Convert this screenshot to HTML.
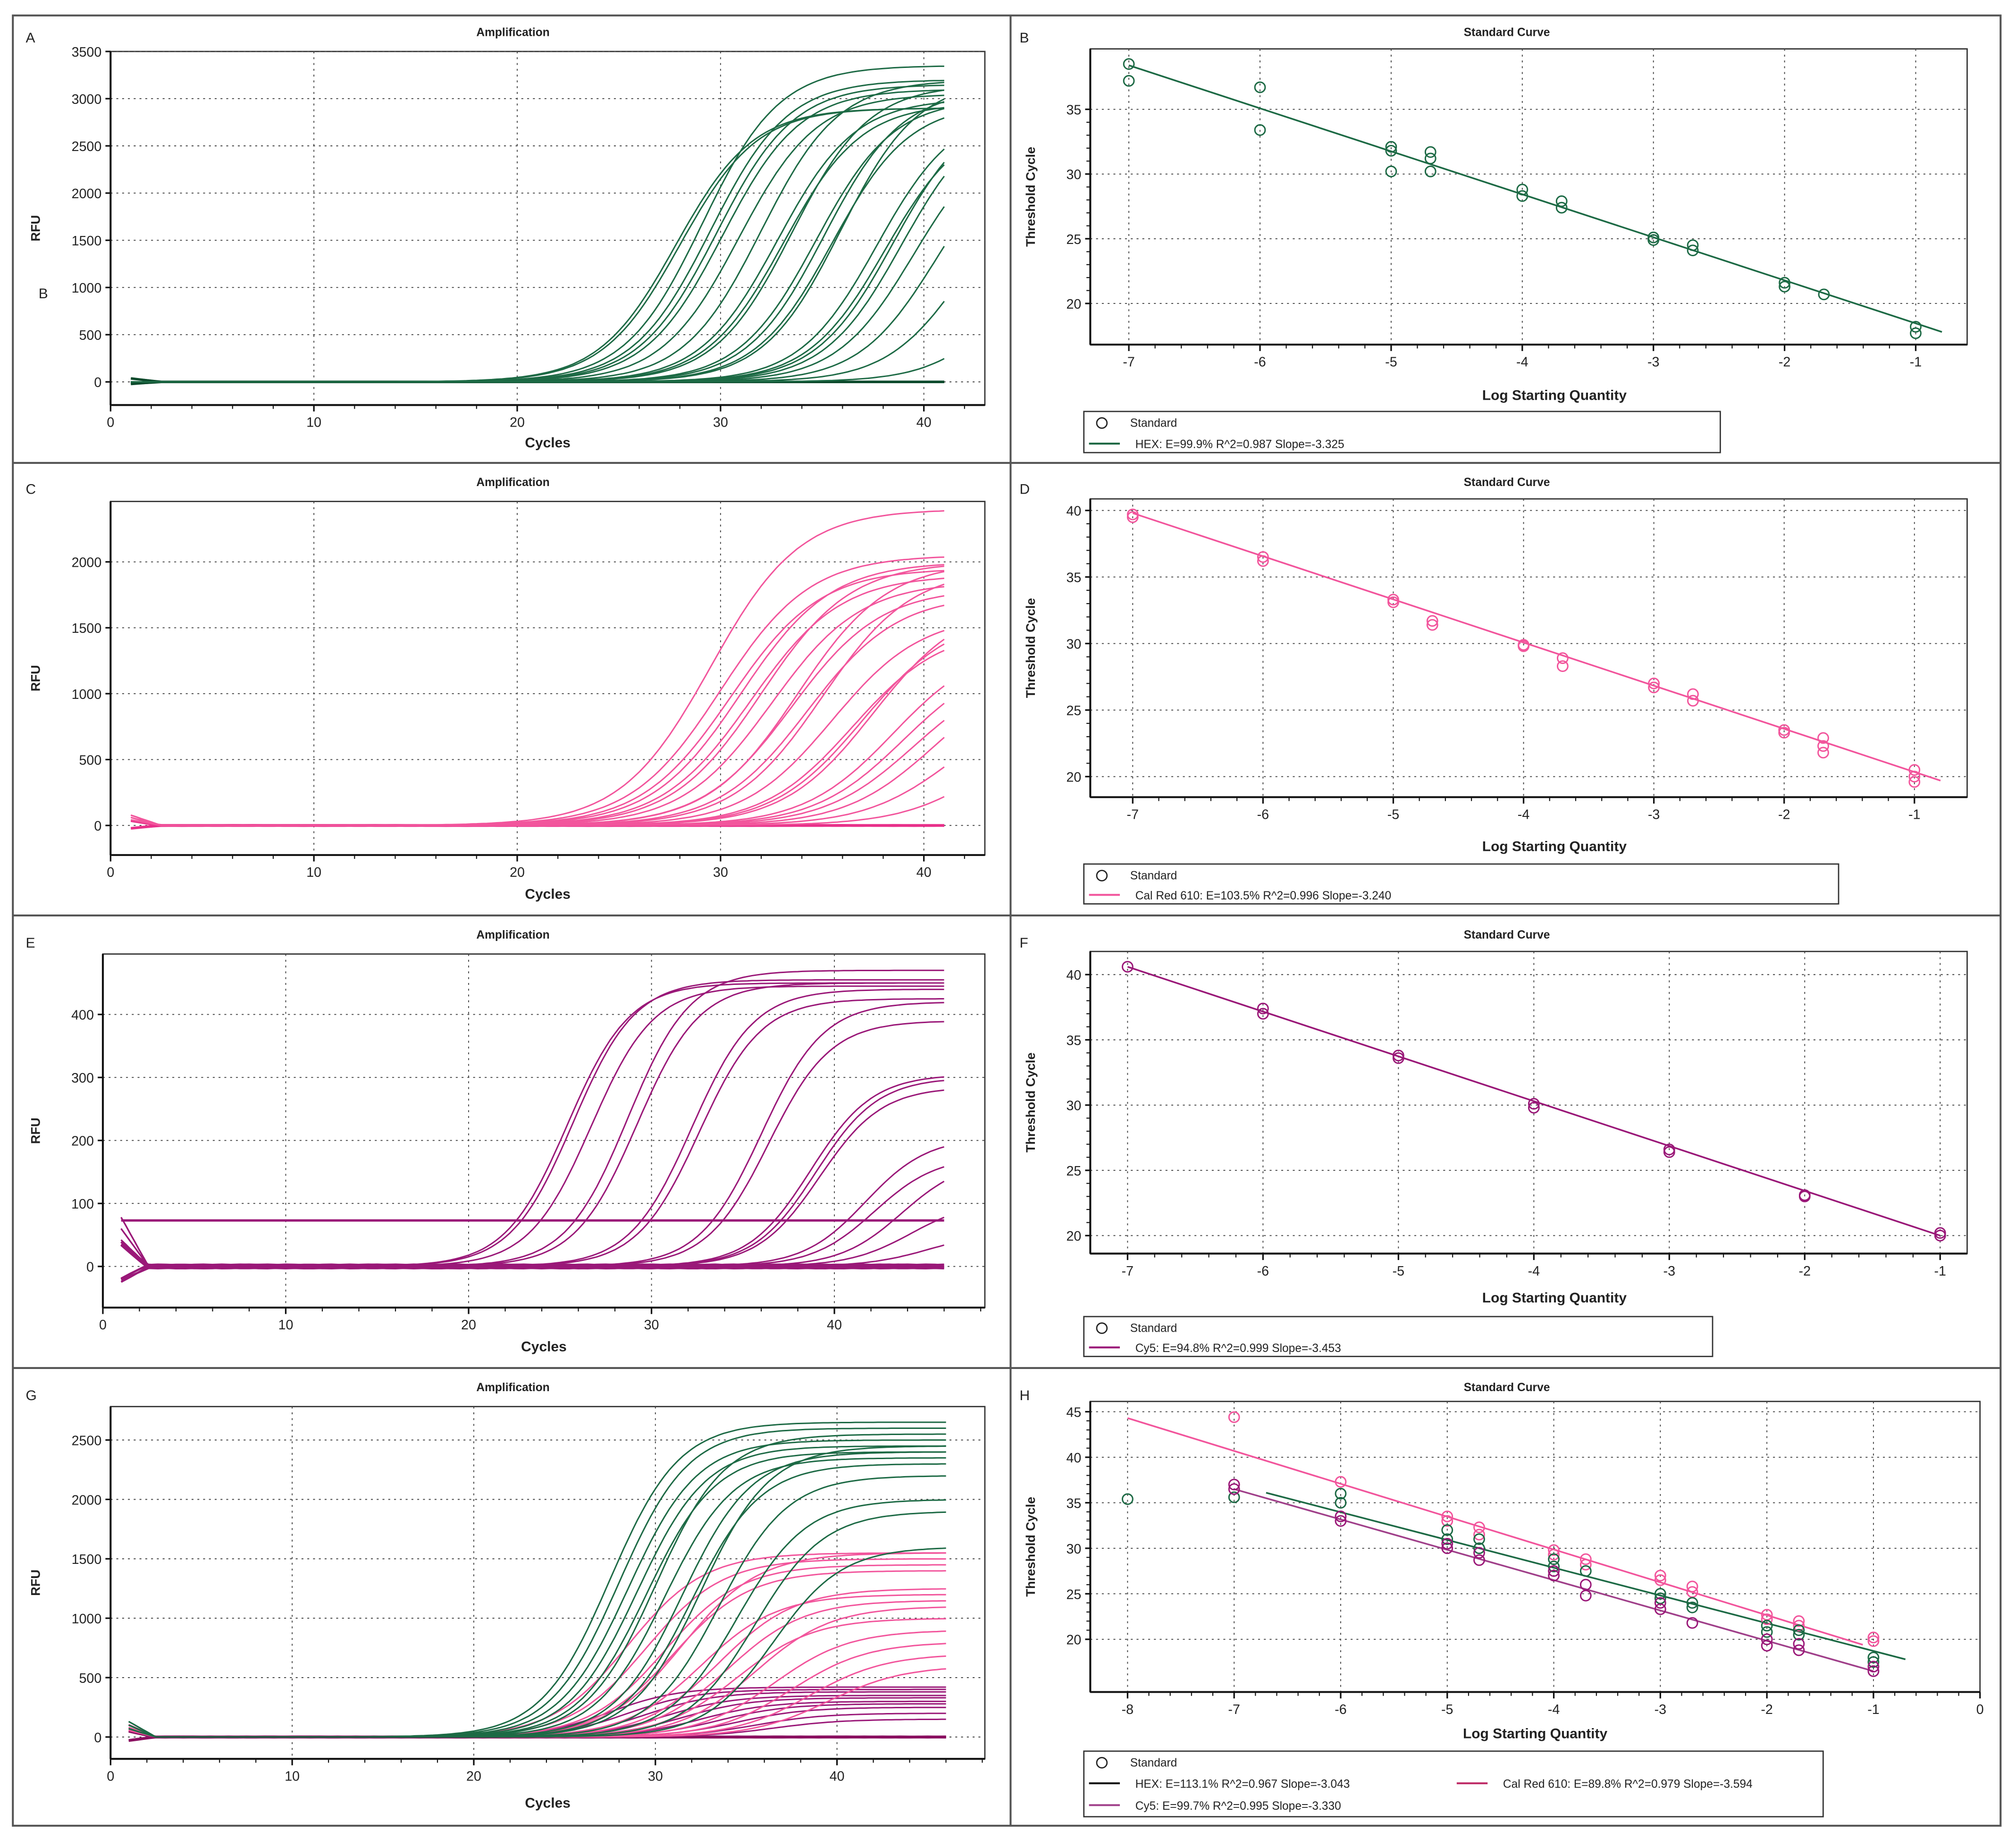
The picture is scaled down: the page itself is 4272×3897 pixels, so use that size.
<!DOCTYPE html>
<html><head><meta charset="utf-8"><style>
html,body{margin:0;padding:0;background:#fff;}
svg{display:block;font-family:"Liberation Sans",sans-serif;}
</style></head><body>
<svg id="fig" xmlns="http://www.w3.org/2000/svg" width="4272" height="3897" viewBox="0 0 1568 1430.3">
<rect x="0" y="0" width="1568" height="1430.3" fill="#fff"/>
<g id="frames" fill="none" stroke="#555" stroke-width="1.5">
<rect x="10" y="12" width="1546" height="1408"/>
<line x1="786" y1="12" x2="786" y2="1420"/>
<line x1="10" y1="360" x2="1556" y2="360"/>
<line x1="10" y1="712" x2="1556" y2="712"/>
<line x1="10" y1="1064" x2="1556" y2="1064"/>
</g>
<g id="root"></g>
</svg>
<script>
// ---------- DATA ----------
const ampA_ct = [27.8,28,29.1,29.5,29.8,30.1,30.9,32,32.8,33.1,33.5,34.7,35.1,35.5,35.9,37.7,38.1,38.5,38.9,39.5,40.6,42,44.5];
const ampA_plateau = [2900,2900,3350,3200,3150,3100,3050,3200,3000,2950,3150,3000,3100,2950,3200,2900,2800,2950,2900,2700,2600,2300,1800];
const ampC_ct = [29.5,30,30.5,31,31.5,32,32.5,33.5,33.8,34.3,35,35.5,36.5,37,37.5,38.5,39,39.5,40.5,41.5,43.5];
const ampC_plateau = [2400,2050,1950,2000,1900,2000,1850,1800,2000,1750,1950,1600,1500,1600,1700,1400,1300,1200,1200,1000,900];
const ampE_ct = [25.4,25.7,26.7,28.7,29.2,32.2,32.6,36,36.4,38.7,39,39.2,41.7,42.2,43.7,44.2,45.2];
const ampE_plateau = [450,455,445,470,450,440,425,420,390,305,300,285,205,175,170,105,55];
const ampE_threshold = 73;
const ampG_green_ct = [27.5,28,28.5,29,29.5,30,30.5,31.5,32,32.5,33.5,34.5,35.5,36.5];
const ampG_green_plateau = [2650,2600,2500,2450,2400,2550,2350,2400,2300,2450,2200,2000,1900,1600];
const ampG_pink_ct = [28.5,29.5,30.5,31,31.5,32.5,33.5,34,34.5,35.5,36.5,37.5,38.5,39.5];
const ampG_pink_plateau = [1550,1500,1450,1400,1550,1200,1250,1150,1000,1100,900,800,700,600];
const ampG_purple_ct = [27.5,28.5,29.5,30.5,31.5,32.5,33.5,34.5,35.5,36.5];
const ampG_purple_plateau = [420,400,380,350,330,300,280,250,200,150];
const stdB_x = [-7,-7,-6,-6,-5,-5,-5,-4.7,-4.7,-4.7,-4,-4,-3.7,-3.7,-3,-3,-2.7,-2.7,-2,-2,-1.7,-1,-1];
const stdB_y = [38.5,37.2,36.7,33.4,32.1,31.8,30.2,31.7,31.2,30.2,28.8,28.3,27.9,27.4,25.1,24.9,24.5,24.1,21.6,21.3,20.7,18.2,17.7];
const stdB_fit = [-7,38.4,-0.8,17.8];
const stdD_x = [-7,-7,-6,-6,-5,-5,-4.7,-4.7,-4,-4,-3.7,-3.7,-3,-3,-2.7,-2.7,-2,-2,-1.7,-1.7,-1.7,-1,-1,-1];
const stdD_y = [39.7,39.5,36.5,36.2,33.3,33.1,31.7,31.4,29.9,29.8,28.9,28.3,27,26.7,26.2,25.7,23.5,23.3,22.9,22.3,21.8,20.5,20,19.6];
const stdD_fit = [-7,39.8,-0.8,19.7];
const stdF_x = [-7,-6,-6,-5,-5,-4,-4,-3,-3,-2,-2,-1,-1];
const stdF_y = [40.6,37.4,37,33.8,33.6,30.1,29.8,26.6,26.4,23.1,23,20.2,20];
const stdF_fit = [-7,40.6,-1,20];
const stdH_green_x = [-8,-7,-6,-6,-5,-5,-4.7,-4.7,-4,-4,-3.7,-3,-3,-2.7,-2.7,-2,-2,-1.7,-1.7,-1,-1];
const stdH_green_y = [35.4,35.6,36,35,32,31,31,30,28.8,28,27.5,25,24.5,24,23.5,21.5,20.8,21,20.5,18,17.5];
const stdH_pink_x = [-7,-6,-5,-5,-4.7,-4.7,-4,-4,-3.7,-3.7,-3,-3,-2.7,-2.7,-2,-2,-1.7,-1.7,-1,-1];
const stdH_pink_y = [44.4,37.3,33.5,33,32.3,31.5,29.8,29.3,28.8,28.2,27,26.5,25.8,25.2,22.7,22.2,22,21.5,20.2,19.8];
const stdH_purple_x = [-7,-7,-6,-6,-5,-5,-4.7,-4.7,-4,-4,-3.7,-3.7,-3,-3,-2.7,-2,-2,-1.7,-1.7,-1,-1];
const stdH_purple_y = [37,36.5,33.5,33,30.5,30,29.5,28.7,27.5,27,26,24.8,24,23.3,21.8,20,19.3,19.5,18.8,17,16.5];
const stdH_green_fit = [-6.7,36.1,-0.7,17.8];
const stdH_pink_fit = [-8,44.3,-1.1,19.4];
const stdH_purple_fit = [-7,36.5,-1,16.5];

// ---------- DRAWING ----------
const NS="http://www.w3.org/2000/svg";
const root=document.getElementById('root');
function mk(tag,attrs,parent){const e=document.createElementNS(NS,tag);for(const k in attrs)e.setAttribute(k,attrs[k]);(parent||root).appendChild(e);return e;}
function txt(s,x,y,size,parent,extra){const t=mk('text',Object.assign({x:x,y:y,'font-size':size,fill:'#222','text-anchor':'middle'},extra||{}),parent);t.textContent=s;return t;}

function axesPanel(cfg){
  const g=mk('g',{});
  
  
  const sx=v=>cfg.px0+(v-cfg.x0)*(cfg.px1-cfg.px0)/(cfg.x1-cfg.x0);
  const sy=v=>cfg.py0+(v-cfg.y0)*(cfg.py1-cfg.py0)/(cfg.y1-cfg.y0);
  const L=cfg.L,R=cfg.R,T=cfg.T,B=cfg.B;
  const t1=txt(cfg.title,cfg.tx,cfg.ty,9,g,{'font-weight':'bold'});
  
  const lt=txt(cfg.letter,cfg.lx,cfg.ly,11,g,{'text-anchor':'start'});
  
  mk('rect',{x:L,y:T,width:R-L,height:B-T,fill:'#fff',stroke:'#333','stroke-width':1},g);
  cfg.xt.forEach(v=>{const x=sx(v);if(x>L+2&&x<R-2)mk('line',{x1:x,y1:T,x2:x,y2:B,stroke:'#444','stroke-width':0.7,'stroke-dasharray':'1.5,3'},g);
    mk('line',{x1:x,y1:B,x2:x,y2:B+5,stroke:'#111','stroke-width':1.2},g);
    const tl=txt(String(v),x,B+17,10.5,g);});
  cfg.yt.forEach(v=>{const y=sy(v);mk('line',{x1:L,y1:y,x2:R,y2:y,stroke:'#444','stroke-width':0.7,'stroke-dasharray':'1.5,3'},g);
    mk('line',{x1:L-4,y1:y,x2:L,y2:y,stroke:'#111','stroke-width':1.2},g);
    const tl=txt(String(v),L-7,y+4,10.5,g,{'text-anchor':'end'});});
  for(let v=Math.ceil(cfg.x0/cfg.xm)*cfg.xm;v<=cfg.x1;v+=cfg.xm){const x=sx(v);if(x>=L&&x<=R)mk('line',{x1:x,y1:B,x2:x,y2:B+3,stroke:'#111','stroke-width':0.8},g);}
  for(let v=Math.ceil(cfg.y1/cfg.ym)*cfg.ym;v<=cfg.y0;v+=cfg.ym){const y=sy(v);if(y>=T&&y<=B)mk('line',{x1:L-3,y1:y,x2:L,y2:y,stroke:'#111','stroke-width':0.8},g);}
  mk('line',{x1:L,y1:B,x2:R,y2:B,stroke:'#111','stroke-width':1.5},g);
  mk('line',{x1:L,y1:T,x2:L,y2:B,stroke:'#111','stroke-width':1.5},g);
  const xl=txt(cfg.xlabel,(L+R)/2+cfg.xlo,B+cfg.xly,11,g,{'font-weight':'bold'});
  
  const yl=txt(cfg.ylabel,0,0,10,g,{'font-weight':'bold',transform:`translate(${cfg.ylx},${(T+B)/2}) rotate(-90)`});
  
  const clip='c'+cfg.name;
  const cp=mk('clipPath',{id:clip},g);mk('rect',{x:L,y:T,width:R-L,height:B-T},cp);
  const plot=mk('g',{'clip-path':`url(#${clip})`},g);
  return {g,plot,sx,sy};
}

function ampCurves(P,cts,plats,color,k,xEnd,name,baseAmp){
  for(let i=0;i<cts.length;i++){
    let d='';
    for(let x=1;x<=xEnd+0.001;x+=0.25){
      let y=plats[i]/(1+Math.exp(-(x-cts[i])/k));
      if(x<2.5) y+=baseAmp*(1-(x-1)/1.5)*(1+0.3*(i%3-1));
      d+=(d?'L':'M')+P.sx(x).toFixed(1)+','+P.sy(y).toFixed(1);
    }
    const p=mk('path',{d:d,fill:'none',stroke:color,'stroke-width':1.1},P.plot);
    
    
  }
}
function baselines(P,n,color,xEnd,wig){
  for(let i=0;i<n;i++){
    let d='';
    for(let x=1;x<=xEnd;x+=0.5){let y=wig*Math.sin(x*0.9+i);if(x<2.5)y+=wig*8*(2.5-x)*((i%2)?1:-0.6);
      d+=(d?'L':'M')+P.sx(x).toFixed(1)+','+P.sy(y).toFixed(1);}
    const p=mk('path',{d:d,fill:'none',stroke:color,'stroke-width':1.6},P.plot);
    
    
  }
}
function stdPoints(P,xs,ys,color){
  for(let i=0;i<xs.length;i++){
    const c=mk('circle',{cx:P.sx(xs[i]),cy:P.sy(ys[i]),r:4,fill:'none',stroke:color,'stroke-width':1.1},P.plot);
    
    
  }
}
function fitLine(P,f,color){
  const l=mk('line',{x1:P.sx(f[0]),y1:P.sy(f[1]),x2:P.sx(f[2]),y2:P.sy(f[3]),stroke:color,'stroke-width':1.3},P.plot);
  
  
}
function legend(x,y,w,h,entries){
  const g=mk('g',{});
  
  
  mk('rect',{x:x,y:y,width:w,height:h,fill:'#fff',stroke:'#333','stroke-width':1},g);
  mk('circle',{cx:x+14,cy:y+9,r:4,fill:'none',stroke:'#222','stroke-width':1},g);
  txt('Standard',x+36,y+12,9,g,{'text-anchor':'start'});
  entries.forEach(e=>{mk('line',{x1:e[0],y1:e[1],x2:e[0]+24,y2:e[1],stroke:e[2],'stroke-width':1.5},g);
    txt(e[3],e[0]+36,e[1]+3.5,9,g,{'text-anchor':'start'});});
}

const GREEN='#1d6a45',PINK='#f2559c',PURP='#9a1878';
const ampXt=[0,10,20,30,40];

let A=axesPanel({name:'amplification-hex',title:'Amplification',tx:399,ty:28,letter:'A',lx:20,ly:33,L:86,R:766,T:40,B:315,
 x0:0,x1:43,px0:86,px1:766,y0:0,y1:3500,py0:297,py1:40,xt:ampXt,yt:[0,500,1000,1500,2000,2500,3000,3500],xm:2,ym:100,
 xlabel:'Cycles',xlo:0,xly:33,ylabel:'RFU',ylx:31});
baselines(A,6,'#0d4a2c',41,3);
ampCurves(A,ampA_ct,ampA_plateau,GREEN,1.9,41,'hex-curve',0);
txt('B',30,232,11,A.g,{'text-anchor':'start'});

let Bp=axesPanel({name:'standard-curve-hex',title:'Standard Curve',tx:1172,ty:28,letter:'B',lx:793,ly:33,L:848,R:1530,T:38,B:268,
 x0:-7,x1:-1,px0:878,px1:1490,y0:35,y1:20,py0:85,py1:236,xt:[-7,-6,-5,-4,-3,-2,-1],yt:[20,25,30,35],xm:0.2,ym:1,
 xlabel:'Log Starting Quantity',xlo:20,xly:43,ylabel:'Threshold Cycle',ylx:805});
fitLine(Bp,stdB_fit,GREEN);stdPoints(Bp,stdB_x,stdB_y,GREEN);
legend(843,320,495,32,[[847,345,GREEN,'HEX: E=99.9% R^2=0.987 Slope=-3.325']]);

let C=axesPanel({name:'amplification-calred',title:'Amplification',tx:399,ty:378,letter:'C',lx:20,ly:384,L:86,R:766,T:390,B:665,
 x0:0,x1:43,px0:86,px1:766,y0:0,y1:2000,py0:642,py1:437,xt:ampXt,yt:[0,500,1000,1500,2000],xm:2,ym:100,
 xlabel:'Cycles',xlo:0,xly:34,ylabel:'RFU',ylx:31});
baselines(C,6,'#e8308a',41,3);
ampCurves(C,ampC_ct,ampC_plateau,PINK,2.2,41,'calred-curve',60);

let D=axesPanel({name:'standard-curve-calred',title:'Standard Curve',tx:1172,ty:378,letter:'D',lx:793,ly:384,L:848,R:1530,T:388,B:620,
 x0:-7,x1:-1,px0:881,px1:1489,y0:40,y1:20,py0:397,py1:604,xt:[-7,-6,-5,-4,-3,-2,-1],yt:[20,25,30,35,40],xm:0.2,ym:1,
 xlabel:'Log Starting Quantity',xlo:20,xly:42,ylabel:'Threshold Cycle',ylx:805});
fitLine(D,stdD_fit,PINK);stdPoints(D,stdD_x,stdD_y,PINK);
legend(843,672,587,31,[[847,696,PINK,'Cal Red 610: E=103.5% R^2=0.996 Slope=-3.240']]);

let E=axesPanel({name:'amplification-cy5',title:'Amplification',tx:399,ty:730,letter:'E',lx:20,ly:737,L:80,R:766,T:742,B:1017,
 x0:0,x1:48,px0:80,px1:649+14.22*8,y0:0,y1:400,py0:985,py1:789,xt:ampXt,yt:[0,100,200,300,400],xm:2,ym:10,
 xlabel:'Cycles',xlo:0,xly:34,ylabel:'RFU',ylx:31});
baselines(E,8,PURP,46,3);
ampCurves(E,ampE_ct,ampE_plateau,PURP,1.7,46,'cy5-curve',60);
{const l=mk('line',{x1:E.sx(1),y1:E.sy(ampE_threshold),x2:E.sx(46),y2:E.sy(ampE_threshold),stroke:PURP,'stroke-width':1.8},E.plot);
 }

let F=axesPanel({name:'standard-curve-cy5',title:'Standard Curve',tx:1172,ty:730,letter:'F',lx:793,ly:737,L:848,R:1530,T:740,B:975,
 x0:-7,x1:-1,px0:877,px1:1509,y0:40,y1:20,py0:758,py1:961,xt:[-7,-6,-5,-4,-3,-2,-1],yt:[20,25,30,35,40],xm:0.2,ym:1,
 xlabel:'Log Starting Quantity',xlo:20,xly:38,ylabel:'Threshold Cycle',ylx:805});
fitLine(F,stdF_fit,PURP);stdPoints(F,stdF_x,stdF_y,PURP);
legend(843,1024,489,31,[[847,1048,PURP,'Cy5: E=94.8% R^2=0.999 Slope=-3.453']]);

let G=axesPanel({name:'amplification-multiplex',title:'Amplification',tx:399,ty:1082,letter:'G',lx:20,ly:1089,L:86,R:766,T:1094,B:1368,
 x0:0,x1:48,px0:86,px1:651+14.125*8,y0:0,y1:2500,py0:1351,py1:1120,xt:ampXt,yt:[0,500,1000,1500,2000,2500],xm:2,ym:100,
 xlabel:'Cycles',xlo:0,xly:38,ylabel:'RFU',ylx:31});
baselines(G,6,'#8a1060',46,4);
ampCurves(G,ampG_purple_ct,ampG_purple_plateau,PURP,1.9,46,'multiplex-cy5-curve',80);
ampCurves(G,ampG_pink_ct,ampG_pink_plateau,PINK,2.1,46,'multiplex-calred-curve',80);
ampCurves(G,ampG_green_ct,ampG_green_plateau,GREEN,1.9,46,'multiplex-hex-curve',100);

let H=axesPanel({name:'standard-curve-multiplex',title:'Standard Curve',tx:1172,ty:1082,letter:'H',lx:793,ly:1089,L:848,R:1540,T:1090,B:1316,
 x0:-8,x1:0,px0:877,px1:1540,y0:45,y1:20,py0:1098,py1:1275,xt:[-8,-7,-6,-5,-4,-3,-2,-1,0],yt:[20,25,30,35,40,45],xm:0.2,ym:1,
 xlabel:'Log Starting Quantity',xlo:0,xly:36,ylabel:'Threshold Cycle',ylx:805});
fitLine(H,stdH_pink_fit,PINK);fitLine(H,stdH_green_fit,GREEN);fitLine(H,stdH_purple_fit,'#a0408a');
stdPoints(H,stdH_pink_x,stdH_pink_y,PINK);stdPoints(H,stdH_green_x,stdH_green_y,GREEN);stdPoints(H,stdH_purple_x,stdH_purple_y,PURP);
legend(843,1362,575,51,[[847,1387,'#111','HEX: E=113.1% R^2=0.967 Slope=-3.043'],[1133,1387,'#c0306a','Cal Red 610: E=89.8% R^2=0.979 Slope=-3.594'],[847,1404,'#a0408a','Cy5: E=99.7% R^2=0.995 Slope=-3.330']]);
</script>
</body></html>
